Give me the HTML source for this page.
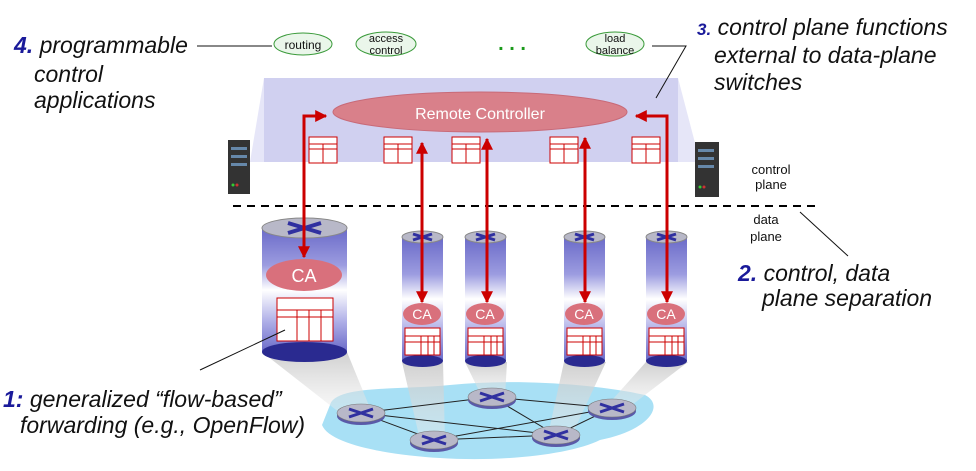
<!DOCTYPE html>
<html><head><meta charset="utf-8"><style>
html,body{margin:0;padding:0;background:#fff;}
svg{display:block;}
.t{font-family:"Liberation Sans",sans-serif;font-style:italic;font-size:23px;fill:#111;}
.n{font-family:"Liberation Sans",sans-serif;font-style:italic;font-weight:bold;fill:#1a1a9a;}
.s{font-family:"Liberation Sans",sans-serif;font-size:13px;fill:#111;}
</style></head><body>
<svg width="976" height="471" viewBox="0 0 976 471" xmlns="http://www.w3.org/2000/svg">
<defs>
<linearGradient id="cyl" x1="0" y1="0" x2="0" y2="1">
<stop offset="0" stop-color="#6a6ac8"/><stop offset="0.3" stop-color="#9c9ce0"/><stop offset="0.5" stop-color="#ffffff"/><stop offset="0.75" stop-color="#b0b0e8"/><stop offset="1" stop-color="#6a6ac8"/>
</linearGradient>
<linearGradient id="cone" x1="0" y1="0" x2="0" y2="1"><stop offset="0" stop-color="#c4c4c4" stop-opacity="0.8"/><stop offset="1" stop-color="#eee" stop-opacity="0.4"/></linearGradient>
<marker id="ah" viewBox="0 0 10 10" refX="9" refY="5" markerWidth="4" markerHeight="4" orient="auto"><path d="M0,0L10,5L0,10z" fill="#c00"/></marker>
<g id="rt"><ellipse cx="0" cy="3" rx="24" ry="9" fill="#5a5aa8"/><ellipse cx="0" cy="0" rx="24" ry="9" fill="#b8b8c8" stroke="#777" stroke-width="0.6"/><path d="M-12,-4L12,4M-12,4L12,-4" stroke="#3030a0" stroke-width="3"/></g>
</defs>
<!-- band -->
<polygon points="250,162 264,78 264,162" fill="#e6e6f8"/>
<polygon points="678,78 700,162 678,162" fill="#e6e6f8"/>
<rect x="264" y="78" width="414" height="84" fill="#d0d0f0"/>
<ellipse cx="480" cy="112" rx="147" ry="20" fill="#d9808a" stroke="#c86a78"/>
<text x="480" y="119" text-anchor="middle" font-family="Liberation Sans,sans-serif" font-size="16" fill="#fff">Remote Controller</text>
<g fill="#fff" stroke="#c00" stroke-width="1">
<g id="st"><rect x="309" y="137" width="28" height="26"/><path d="M309,144H337M309,149H337M323,144V163"/></g>
<use href="#st" x="75"/><use href="#st" x="143"/><use href="#st" x="241"/><use href="#st" x="323"/>
</g>
<g fill="#eaf6ea" stroke="#3a9a3a" stroke-width="1">
<ellipse cx="303" cy="44" rx="29" ry="11"/><ellipse cx="386" cy="44" rx="30" ry="12"/><ellipse cx="615" cy="44" rx="29" ry="12"/></g>
<g font-family="Liberation Sans,sans-serif" font-size="12" fill="#111" text-anchor="middle">
<text x="303" y="49">routing</text><text x="386" y="42" font-size="11">access</text><text x="386" y="54" font-size="11">control</text>
<text x="615" y="42" font-size="11">load</text><text x="615" y="54" font-size="11">balance</text></g>
<text x="512" y="50" text-anchor="middle" font-family="Liberation Sans,sans-serif" font-size="20" font-weight="bold" fill="#1a9a1a">. . .</text>
<g><rect x="228" y="140" width="22" height="54" fill="#333"/><rect x="231" y="147" width="16" height="3" fill="#68a"/><rect x="231" y="155" width="16" height="3" fill="#68a"/><rect x="231" y="163" width="16" height="3" fill="#68a"/><circle cx="233" cy="185" r="1.5" fill="#3c3"/><circle cx="237" cy="185" r="1.5" fill="#c33"/></g>
<g><rect x="695" y="142" width="24" height="55" fill="#333"/><rect x="698" y="149" width="16" height="3" fill="#68a"/><rect x="698" y="157" width="16" height="3" fill="#68a"/><rect x="698" y="165" width="16" height="3" fill="#68a"/><circle cx="700" cy="187" r="1.5" fill="#3c3"/><circle cx="704" cy="187" r="1.5" fill="#c33"/></g>
<line x1="233" y1="206" x2="815" y2="206" stroke="#000" stroke-width="2" stroke-dasharray="8,6"/>
<path d="M330,405 C335,385 400,390 450,385 C520,378 600,385 645,395 C665,405 650,430 600,440 C570,455 500,462 440,458 C390,455 330,445 322,425 Z" fill="#a8e0f5"/>
<g fill="url(#cone)">
<polygon points="262,352 347,352 372,413 340,413"/>
<polygon points="402,362 443,362 445,440 420,440"/>
<polygon points="465,362 507,362 505,397 482,397"/>
<polygon points="564,362 606,362 572,435 548,435"/>
<polygon points="646,362 688,362 628,408 605,408"/>
</g>
<g stroke="#222" stroke-width="1" fill="none">
<path d="M361,413L492,397L612,408L556,435L434,440L361,413M361,413L556,435M434,440L612,408M492,397L556,435"/></g>
<use href="#rt" x="361" y="413"/><use href="#rt" x="492" y="397"/><use href="#rt" x="434" y="440"/><use href="#rt" x="556" y="435"/><use href="#rt" x="612" y="408"/>
<rect x="262" y="228" width="85" height="124" fill="url(#cyl)"/>
<ellipse cx="304.5" cy="352" rx="42.5" ry="10" fill="#2a2a90"/>
<ellipse cx="304.5" cy="228" rx="42.5" ry="10" fill="#b8b8c8" stroke="#888"/>
<path d="M288,223L321,233M288,233L321,223" stroke="#3030a0" stroke-width="4"/>
<ellipse cx="304" cy="275" rx="38" ry="16" fill="#d9707c"/>
<text x="304" y="282" text-anchor="middle" font-family="Liberation Sans,sans-serif" font-size="18" fill="#fff">CA</text>
<g fill="#fff" stroke="#c00"><rect x="277" y="298" width="56" height="43"/><path d="M277,310H333M277,317H333M297,310V341M309,310V341M321,310V341"/></g>
<g id="sc">
<rect x="402" y="237" width="41" height="124" fill="url(#cyl)"/>
<ellipse cx="422.5" cy="361" rx="20.5" ry="6" fill="#2a2a90"/>
<ellipse cx="422.5" cy="237" rx="20.5" ry="6" fill="#b8b8c8" stroke="#888"/>
<path d="M413,234L432,240M413,240L432,234" stroke="#3030a0" stroke-width="3"/>
<ellipse cx="422" cy="314" rx="19" ry="11" fill="#d9707c"/>
<text x="422" y="319" text-anchor="middle" font-family="Liberation Sans,sans-serif" font-size="14" fill="#fff">CA</text>
<g fill="#fff" stroke="#c00"><rect x="405" y="328" width="35" height="27"/><path d="M405,336H440M405,342H440M421,336V355M428,336V355M434,336V355"/></g>
</g>
<use href="#sc" x="63"/><use href="#sc" x="162"/><use href="#sc" x="244"/>
<g stroke="#c00" stroke-width="3" fill="none">
<path d="M304,228V116H326" marker-end="url(#ah)"/>
<line x1="304" y1="200" x2="304" y2="257" marker-end="url(#ah)"/>
<line x1="422" y1="300" x2="422" y2="143" marker-end="url(#ah)"/><line x1="422" y1="150" x2="422" y2="302" marker-end="url(#ah)"/>
<line x1="487" y1="300" x2="487" y2="139" marker-end="url(#ah)"/><line x1="487" y1="150" x2="487" y2="302" marker-end="url(#ah)"/>
<line x1="585" y1="300" x2="585" y2="138" marker-end="url(#ah)"/><line x1="585" y1="150" x2="585" y2="302" marker-end="url(#ah)"/>
<path d="M667,228V116H636" marker-end="url(#ah)"/>
<line x1="667" y1="200" x2="667" y2="302" marker-end="url(#ah)"/>
</g>
<g stroke="#111" stroke-width="1" fill="none">
<line x1="197" y1="46" x2="272" y2="46"/>
<path d="M652,46H686L656,98"/>
<line x1="800" y1="212" x2="848" y2="256"/>
<line x1="285" y1="330" x2="200" y2="370"/>
</g>
<text class="t" x="14" y="53"><tspan class="n">4.</tspan> programmable</text>
<text class="t" x="34" y="82">control</text>
<text class="t" x="34" y="108">applications</text>
<text class="t" x="697" y="35"><tspan class="n" font-size="17">3.</tspan> control plane functions</text>
<text class="t" x="714" y="63">external to data-plane</text>
<text class="t" x="714" y="90">switches</text>
<text class="s" x="771" y="174" text-anchor="middle">control</text>
<text class="s" x="771" y="189" text-anchor="middle">plane</text>
<text class="s" x="766" y="224" text-anchor="middle">data</text>
<text class="s" x="766" y="241" text-anchor="middle">plane</text>
<text class="t" x="738" y="281"><tspan class="n">2.</tspan> control, data</text>
<text class="t" x="762" y="306">plane separation</text>
<text class="t" x="3" y="407"><tspan class="n">1:</tspan> generalized “flow-based”</text>
<text class="t" x="20" y="433">forwarding (e.g., OpenFlow)</text>
</svg>
</body></html>
